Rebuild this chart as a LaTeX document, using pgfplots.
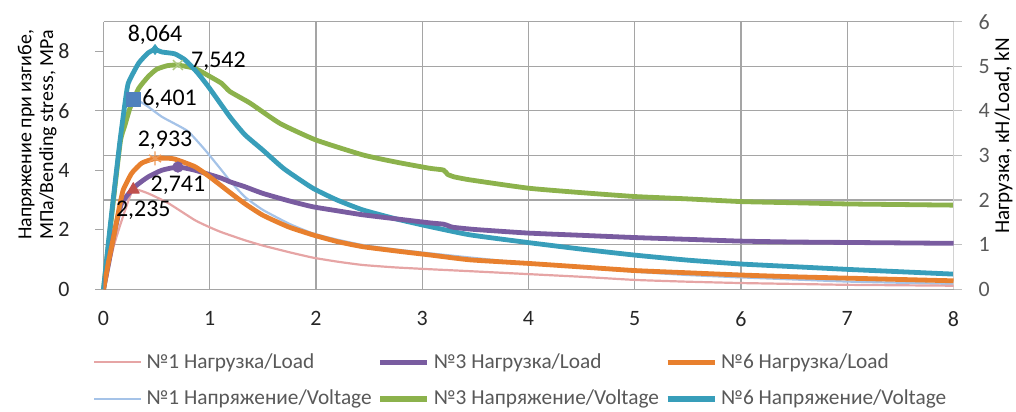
\documentclass[border=0pt]{standalone}
\usepackage{fontspec}
\setmainfont{Carlito}
\usepackage{pgfplots}
\pgfplotsset{compat=1.18}
\definecolor{cPink}{RGB}{230,165,165}
\definecolor{cLBlue}{RGB}{165,195,232}
\definecolor{cPurple}{RGB}{121,92,160}
\definecolor{cGreen}{RGB}{140,178,76}
\definecolor{cOrange}{RGB}{232,128,46}
\definecolor{cTeal}{RGB}{56,158,186}
\definecolor{cGrid}{RGB}{165,165,165}
\definecolor{cTxt}{RGB}{89,89,89}
\definecolor{cMarkBlue}{RGB}{79,129,189}
\definecolor{cMarkRed}{RGB}{192,80,77}
\begin{document}
\begin{tikzpicture}
\pgfplotsset{
  base/.style={
    scale only axis, width=425bp, height=133.8bp,
    xmin=0, xmax=8,
    /pgf/number format/assume math mode=true,
    tick label style={font=\fontsize{11}{13}\selectfont},
    every axis plot/.append style={line join=round},
  },
  curve/.style={smooth, tension=0.3},
}
% ---------- left axis: stress (MPa) ----------
\begin{axis}[base, name=ax,
  ymin=0, ymax=9,
  axis x line*=bottom, axis y line*=left,
  x axis line style={cGrid, -}, y axis line style={cGrid, -},
  xtick={0,1,...,8}, ytick={0,2,4,6,8},
  xmajorgrids, major grid style={cGrid, line width=0.6bp},
  x tick style={draw=none}, y tick style={cGrid, line width=0.6bp},
  tick align=outside, major tick length=4bp,
  xticklabel style={yshift=-3.5bp, text=black!85},
  yticklabel style={xshift=-9.5bp, text=black!85},
  extra y ticks={1.5,3,4.5,6,7.5,9}, extra y tick labels={},
  extra y tick style={grid=major, major tick length=0pt, tick style={draw=none}},
  clip=false,
]
\node[rotate=90, align=center, font=\fontsize{10}{11}\selectfont, anchor=center]
  at (rel axis cs:-0.078,0.577) {Напряжение при изгибе,\\МПа/Bending stress, MPa};
\node[rotate=90, font=\fontsize{10.6}{11}\selectfont, anchor=center]
  at (rel axis cs:1.0588,0.573) {Нагрузка, кН/Load, kN};
% No1 Voltage
\addplot[cLBlue, line width=1.1bp, curve] coordinates {
(0,0) (0.05,1.6) (0.1,3.2) (0.16,5.0) (0.22,5.9) (0.28,6.401) (0.35,6.3) (0.42,6.14)
(0.55,5.8) (0.68,5.55) (0.8,5.3) (0.955,4.69) (1.11,4.01) (1.19,3.65) (1.33,3.11)
(1.5,2.67) (1.75,2.2) (1.97,1.88) (2.2,1.67) (2.44,1.49) (2.75,1.34) (3.07,1.21)
(3.5,1.05) (4.0,0.87) (4.5,0.73) (5.0,0.59) (5.5,0.48) (6.0,0.40) (6.5,0.33)
(7.0,0.26) (7.5,0.22) (8.0,0.18)};
% No3 Voltage
\addplot[cGreen, line width=2.4bp, curve] coordinates {
(0,0) (0.05,1.6) (0.1,3.2) (0.16,5.0) (0.2,5.5) (0.25,6.1) (0.33,6.75) (0.42,7.15)
(0.5,7.4) (0.6,7.52) (0.7,7.542) (0.86,7.43) (0.98,7.2) (1.11,6.93) (1.19,6.65)
(1.38,6.26) (1.66,5.58) (2.0,5.02) (2.44,4.52) (2.75,4.28) (3.07,4.07) (3.2,4.01)
(3.24,3.86) (3.27,3.82) (3.3,3.78) (3.45,3.68) (4.0,3.40) (4.5,3.25) (5.0,3.12)
(5.5,3.04) (6.0,2.95) (6.5,2.91) (7.0,2.87) (7.5,2.85) (8.0,2.83)};
% No6 Voltage
\addplot[cTeal, line width=2.4bp, curve] coordinates {
(0,0) (0.05,1.7) (0.1,3.3) (0.156,5.02) (0.2,6.2) (0.233,6.93) (0.33,7.6) (0.42,7.95)
(0.485,8.064) (0.55,7.98) (0.67,7.92) (0.77,7.71) (0.88,7.3) (0.986,6.82) (1.19,5.8)
(1.33,5.2) (1.5,4.68) (1.7,4.05) (1.97,3.40) (2.2,3.0) (2.44,2.67) (2.75,2.37)
(3.07,2.11) (3.45,1.83) (4.0,1.57) (4.5,1.35) (5.0,1.15) (5.5,0.98) (6.0,0.85)
(6.5,0.76) (7.0,0.67) (7.5,0.59) (8.0,0.51)};
% peak markers and labels
\addplot[only marks, mark=square*, mark size=3.5bp, color=cMarkBlue,
  nodes near coords={6,401}, every node near coord/.append style={anchor=west, xshift=1bp, text=black, font=\fontsize{12}{14}\selectfont}]
  coordinates {(0.28,6.401)};
\addplot[only marks, mark=x, mark size=3.5bp, color=cGreen!70, line width=0.7bp,
  nodes near coords={7,542}, every node near coord/.append style={anchor=west, xshift=3bp, yshift=2bp, text=black, font=\fontsize{12}{14}\selectfont}]
  coordinates {(0.7,7.542)};
\addplot[only marks, mark=diamond*, mark size=2.5bp, color=cTeal,
  nodes near coords={8,064}, every node near coord/.append style={anchor=south, yshift=-1bp, text=black, font=\fontsize{12}{14}\selectfont}]
  coordinates {(0.485,8.064)};
\end{axis}
% ---------- right axis: load (kN) ----------
\begin{axis}[base,
  ymin=0, ymax=6,
  axis x line=none, axis y line*=right,
  y axis line style={cGrid!50, -},
  ytick={0,1,...,6},
  y tick style={cGrid!70, line width=0.6bp},
  tick align=outside, major tick length=4bp,
  yticklabel style={xshift=5bp, text=cTxt},
  legend columns=3, legend cell align=left,
  legend style={at={(axis description cs:0.492,-0.208)}, anchor=north, draw=none,
    font=\fontsize{10.7}{13}\selectfont, text=cTxt, row sep=5.5bp,
    /tikz/every even column/.append style={column sep=1bp},
    nodes={inner xsep=2bp}},
  legend image code/.code={\draw[#1] (0bp,0bp) -- (23.5bp,0bp);},
]
% No1 Load
\addplot[cPink, line width=1.1bp, forget plot, curve] coordinates {
(0,0) (0.1,1.0) (0.2,1.75) (0.28,2.235) (0.42,2.15) (0.61,1.93) (0.86,1.55) (1.0,1.39)
(1.11,1.28) (1.33,1.10) (1.5,0.98) (1.75,0.83) (1.97,0.71) (2.2,0.62) (2.44,0.545) (2.75,0.49)
(3.07,0.45) (3.5,0.40) (4.0,0.34) (4.5,0.28) (5.0,0.21) (5.5,0.17) (6.0,0.14)
(6.5,0.12) (7.0,0.10) (7.5,0.09) (8.0,0.08)};
% No3 Load
\addplot[cPurple, line width=2.4bp, forget plot, curve] coordinates {
(0,0) (0.05,0.6) (0.1,1.25) (0.171,1.93) (0.296,2.30) (0.42,2.52) (0.55,2.67)
(0.70,2.741) (0.86,2.67) (1.11,2.49) (1.19,2.41) (1.33,2.30) (1.5,2.15) (1.75,1.98)
(1.97,1.85) (2.2,1.76) (2.44,1.67) (2.75,1.58) (3.07,1.49) (3.2,1.46) (3.25,1.42)
(3.29,1.39) (3.5,1.34) (4.0,1.26) (4.5,1.21) (5.0,1.16) (5.5,1.12) (6.0,1.08)
(6.5,1.06) (7.0,1.05) (7.5,1.04) (8.0,1.03)};
% No6 Load
\addplot[cOrange, line width=2.4bp, forget plot, curve] coordinates {
(0,0) (0.05,0.65) (0.108,1.33) (0.15,1.85) (0.186,2.23) (0.265,2.60) (0.36,2.83)
(0.485,2.933) (0.58,2.94) (0.67,2.92) (0.86,2.75) (1.0,2.52) (1.19,2.17) (1.33,1.92)
(1.5,1.66) (1.74,1.40) (1.97,1.22) (2.2,1.07) (2.44,0.955) (2.75,0.86) (3.07,0.77)
(3.45,0.66) (4.0,0.58) (4.5,0.50) (5.0,0.42) (5.5,0.37) (6.0,0.32) (6.5,0.28)
(7.0,0.25) (7.5,0.22) (8.0,0.19)};
% peak markers and labels
\addplot[only marks, mark=triangle*, mark size=3.5bp, color=cMarkRed, forget plot,
  nodes near coords={2,235}, every node near coord/.append style={anchor=north, xshift=5bp, yshift=-2bp, text=black, font=\fontsize{12}{14}\selectfont}]
  coordinates {(0.28,2.235)};
\addplot[only marks, mark=*, mark size=2.6bp, color=cPurple, forget plot,
  nodes near coords={2,741}, every node near coord/.append style={anchor=north, yshift=-1bp, text=black, font=\fontsize{12}{14}\selectfont}]
  coordinates {(0.70,2.741)};
\addplot[only marks, mark=asterisk, mark size=3.5bp, color=cOrange!80, line width=0.7bp, forget plot,
  nodes near coords={2,933}, every node near coord/.append style={anchor=south, xshift=5bp, yshift=1bp, text=black, font=\fontsize{12}{14}\selectfont}]
  coordinates {(0.485,2.933)};
% legend
\addlegendimage{cPink, line width=1.2bp}
\addlegendentry{№1 Нагрузка/Load}
\addlegendimage{cPurple, line width=2.6bp}
\addlegendentry{№3 Нагрузка/Load}
\addlegendimage{cOrange, line width=2.6bp}
\addlegendentry{№6 Нагрузка/Load}
\addlegendimage{cLBlue, line width=1.2bp}
\addlegendentry{№1 Напряжение/Voltage}
\addlegendimage{cGreen, line width=2.6bp}
\addlegendentry{№3 Напряжение/Voltage}
\addlegendimage{cTeal, line width=2.6bp}
\addlegendentry{№6 Напряжение/Voltage}
\end{axis}
\pgfresetboundingbox
\path[use as bounding box] ([xshift=-51.75bp,yshift=-61.35bp]ax.south west) rectangle ([xshift=31.25bp,yshift=10.85bp]ax.north east);
\end{tikzpicture}
\end{document}
